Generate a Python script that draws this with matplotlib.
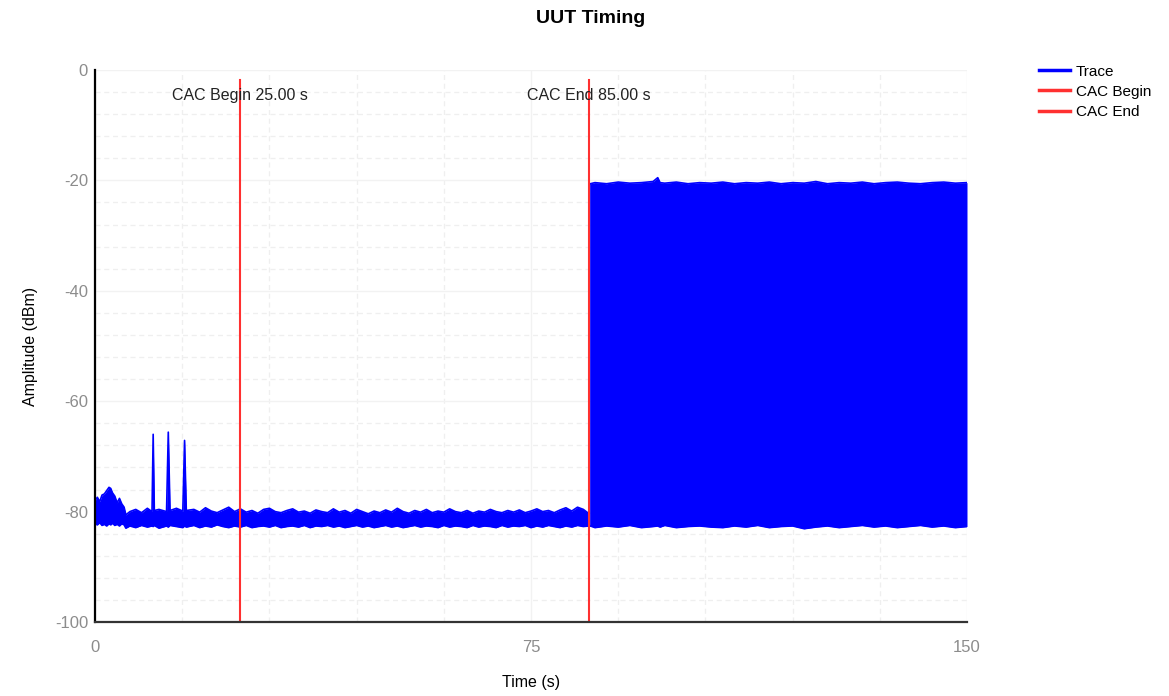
import matplotlib
matplotlib.use("Agg")
import matplotlib.pyplot as plt
from matplotlib.ticker import MultipleLocator

plt.rcParams['font.family'] = ['Liberation Sans', 'DejaVu Sans']
plt.rcParams['axes.unicode_minus'] = False

# trace envelope (time in s, amplitude in dBm)
t_quiet = [0, 0.4, 0.8, 1.2, 1.6, 2.0, 2.4, 2.7, 3.0, 3.4, 3.8, 4.2, 4.6, 5.0, 5.3,
           6, 7, 8, 9, 9.8, 10.0, 10.2, 11, 12.3, 12.6, 12.9, 14, 15.1, 15.4, 15.7,
           17, 18, 19, 20, 21, 22, 23, 24, 25, 26, 27, 28, 29, 30, 31, 32, 33, 34,
           35, 36, 37, 38, 39, 40, 41, 42, 43, 44, 45, 46, 47, 48, 49, 50, 51, 52,
           53, 54, 55, 56, 57, 58, 59, 60, 61, 62, 63, 64, 65, 66, 67, 68, 69, 70,
           71, 72, 73, 74, 75, 76, 77, 78, 79, 80, 81, 82, 83, 84, 85.0]
hi_quiet = [-78.0, -77.4, -78.2, -77.0, -76.8, -76.2, -75.6, -75.8, -76.6, -77.2, -78.4, -77.6, -78.6, -79.2, -80.6,
            -80.0, -79.6, -80.2, -79.4, -80.0, -66.0, -79.8, -79.6, -80.0, -65.6, -79.8, -79.4, -79.9, -67.1, -79.8,
            -79.6, -80.1, -79.3, -79.9, -80.2, -79.7, -79.2, -80.0, -79.5, -80.1, -79.8, -80.3, -79.6, -79.4, -80.0, -80.2, -79.8, -79.5,
            -80.1, -79.9, -80.3, -79.7, -80.0, -80.2, -79.5, -80.1, -79.8, -80.3, -79.6, -80.0, -80.4, -79.9, -80.2, -79.7, -80.1, -79.4,
            -80.0, -80.3, -79.8, -80.1, -79.6, -80.2, -79.9, -80.1, -79.5, -80.0, -80.2, -79.8, -80.3, -79.9, -80.1, -79.6, -80.0, -80.2,
            -79.8, -80.1, -79.7, -80.2, -79.9, -79.5, -80.0, -79.8, -80.2, -79.7, -79.3, -79.9, -79.2, -79.6, -80.4]
lo_quiet = [-82.2, -82.4, -82.0, -82.5, -82.3, -82.6, -82.2, -82.4, -82.1, -82.5, -82.3, -82.6, -82.2, -82.4, -83.0,
            -82.6, -82.9, -82.5, -82.8, -82.6, -82.7, -82.5, -83.0, -82.6, -82.8, -82.5, -82.7, -82.9, -82.6, -82.8,
            -82.5, -82.9, -82.6, -82.8, -82.4, -82.7, -82.9, -82.6, -82.8, -82.5, -82.9, -82.7, -82.6, -82.8, -82.5, -82.9, -82.7, -82.6,
            -82.8, -82.5, -82.9, -82.6, -82.7, -82.5, -82.8, -82.6, -82.9, -82.7, -82.5, -82.8, -82.6, -82.9, -82.7, -82.5, -82.8, -82.6,
            -82.9, -82.7, -82.5, -82.8, -82.6, -82.7, -82.9, -82.5, -82.8, -82.6, -82.7, -82.9, -82.5, -82.8, -82.6, -82.7, -82.9, -82.5,
            -82.8, -82.6, -82.7, -82.5, -82.9, -82.6, -82.8, -82.5, -82.7, -82.9, -82.6, -82.8, -82.5, -82.7, -82.6]

t_burst = [85.2, 86, 88, 90, 92, 94, 96, 96.8, 97.2, 98, 100, 102, 104, 106, 108, 110, 112,
           114, 116, 118, 120, 122, 124, 126, 128, 130, 132, 134, 136, 138, 140, 142,
           144, 146, 148, 150]
hi_burst = [-20.6, -20.4, -20.6, -20.3, -20.5, -20.4, -20.2, -19.5, -20.4, -20.5, -20.3, -20.6, -20.4, -20.5, -20.3, -20.6, -20.4,
            -20.5, -20.3, -20.6, -20.4, -20.5, -20.2, -20.6, -20.4, -20.5, -20.3, -20.6, -20.4, -20.3, -20.5, -20.6,
            -20.4, -20.3, -20.5, -20.4]
lo_burst = [-82.6, -82.9, -82.6, -82.8, -82.5, -82.9, -82.7, -82.6, -82.8, -82.5, -82.9, -82.7, -82.6, -82.8, -82.9, -82.6, -82.8,
            -82.5, -82.9, -82.7, -82.6, -83.1, -82.8, -82.6, -82.9, -82.7, -82.5, -82.8, -82.6, -82.9, -82.7, -82.5,
            -82.8, -82.6, -82.9, -82.7]

cac_begin = 25.0
cac_end = 85.0

fig = plt.figure(figsize=(11.69, 6.96), dpi=100)
ax = fig.add_axes([0.0813, 0.1063, 0.7459, 0.7931])

ax.fill_between(t_quiet, lo_quiet, hi_quiet, color='#0000ff', lw=0)
ax.fill_between(t_burst, lo_burst, hi_burst, color='#0000ff', lw=0)
ax.plot(t_quiet, hi_quiet, color='#0000ff', lw=1.2, label='Trace')
ax.plot(t_quiet, lo_quiet, color='#0000ff', lw=1.2)
ax.plot(t_burst, hi_burst, color='#0000ff', lw=1.2)
ax.plot(t_burst, lo_burst, color='#0000ff', lw=1.2)
ax.plot([t_burst[0], t_burst[0]], [lo_burst[0], hi_burst[0]], color='#0000ff', lw=1.2)

ax.plot([cac_begin, cac_begin], [-100, -1.8], color='#ff3030', lw=1.5, label='CAC Begin')
ax.plot([cac_end, cac_end], [-100, -1.8], color='#ff3030', lw=1.5, label='CAC End')
ax.text(cac_begin, -4.6, 'CAC Begin %.2f s' % cac_begin, ha='center', va='center', fontsize=11.5, color='#222222')
ax.text(cac_end, -4.6, 'CAC End %.2f s' % cac_end, ha='center', va='center', fontsize=11.5, color='#222222')

ax.set_xlim(0, 150)
ax.set_ylim(-100, 0)
ax.xaxis.set_major_locator(MultipleLocator(75))
ax.xaxis.set_minor_locator(MultipleLocator(15))
ax.yaxis.set_major_locator(MultipleLocator(20))
ax.yaxis.set_minor_locator(MultipleLocator(4))
ax.grid(which='major', color='#f2f2f2', lw=1.0, ls='-')
ax.grid(which='minor', color='#efefef', lw=0.9, ls=(0, (4, 3)))
ax.set_axisbelow(True)

ax.tick_params(which='both', length=0)
ax.tick_params(axis='x', pad=13, labelsize=12, labelcolor='#8c8c8c')
ax.tick_params(axis='y', pad=5, labelsize=12, labelcolor='#8c8c8c')

for s in ['top', 'right']:
    ax.spines[s].set_visible(False)
ax.spines['left'].set_color('black')
ax.spines['left'].set_linewidth(1.6)
ax.spines['bottom'].set_color('#333333')
ax.spines['bottom'].set_linewidth(1.6)

ax.set_xlabel('Time (s)', fontsize=11.5, labelpad=14)
ax.set_ylabel('Amplitude (dBm)', fontsize=11.5, labelpad=12)

fig.suptitle('UUT Timing', fontsize=14, fontweight='bold', x=0.505, y=0.985)

leg = fig.legend(loc='upper left', bbox_to_anchor=(0.8825, 0.918), frameon=False,
                 fontsize=11, handlelength=2.0, handletextpad=0.4, labelspacing=0.4,
                 borderpad=0)
for ln in leg.get_lines():
    ln.set_linewidth(2.5)

fig.savefig('out.png', dpi=100)
